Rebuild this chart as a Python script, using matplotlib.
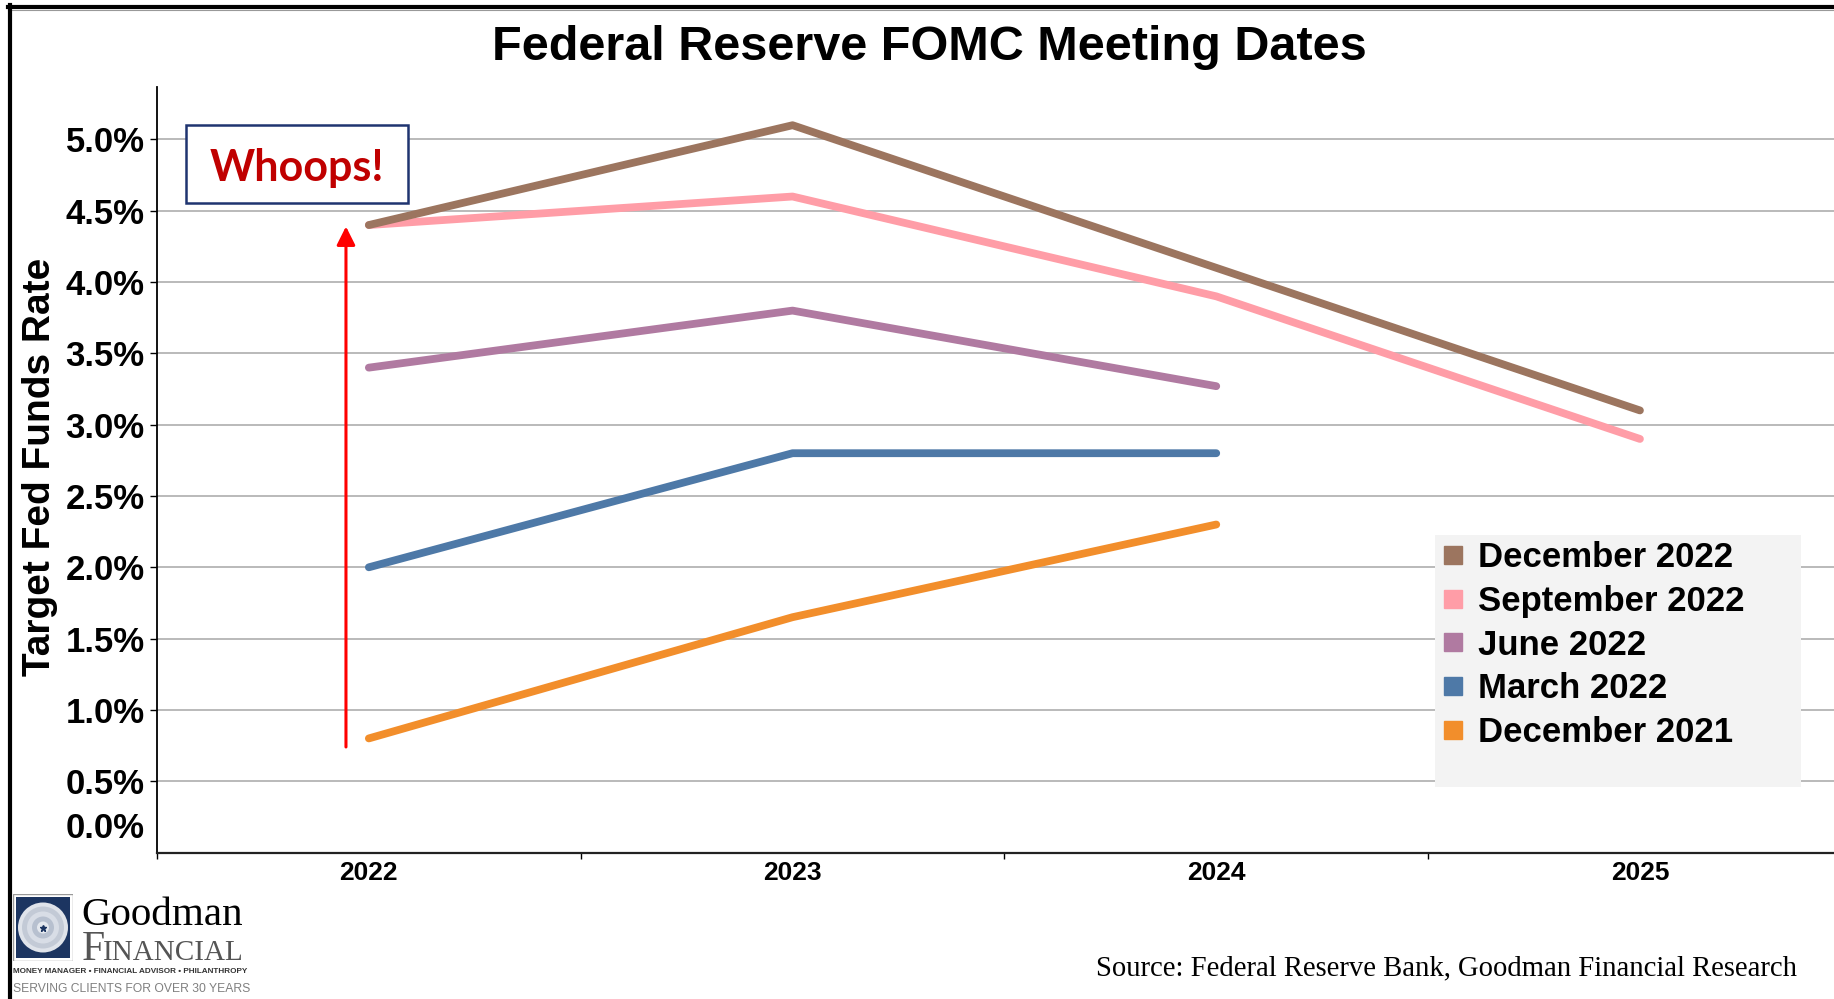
import matplotlib
matplotlib.use("Agg")
import matplotlib.pyplot as plt
import matplotlib.patches as mpatches
from matplotlib.lines import Line2D
import numpy as np

plt.rcParams['font.family'] = ['Liberation Sans', 'DejaVu Sans']

# projections of the target fed funds rate, by meeting
years = ['2022', '2023', '2024', '2025']
dec_2022 = [4.4, 5.1, 4.1, 3.1]
sep_2022 = [4.4, 4.6, 3.9, 2.9]
jun_2022 = [3.4, 3.8, 3.27]
mar_2022 = [2.0, 2.8, 2.8]
dec_2021 = [0.8, 1.65, 2.3]

series_names = ['December 2022', 'September 2022', 'June 2022', 'March 2022', 'December 2021']
series_values = [dec_2022, sep_2022, jun_2022, mar_2022, dec_2021]
series_colors = ['#9c755f', '#ff9da7', '#b07aa1', '#4e79a7', '#f28e2b']

ytick_values = [0.5, 1.0, 1.5, 2.0, 2.5, 3.0, 3.5, 4.0, 4.5, 5.0]

W, H = 1834, 999
fig = plt.figure(figsize=(W / 100, H / 100), dpi=100)


def fx(px):
    return px / W


def fy(py):
    return 1 - py / H


ax = fig.add_axes([fx(157), fy(852.5), 1 - fx(157), fy(87) - fy(852.5)])
ax.set_xlim(-0.5, 3.458)
ax.set_ylim(0, 5.368)

x = np.arange(len(years))
# oldest first so the newest projection sits on top
for name, vals, col in reversed(list(zip(series_names, series_values, series_colors))):
    ax.plot(x[:len(vals)], vals, color=col, lw=5.6, solid_capstyle='round', zorder=3)

ax.set_yticks(ytick_values)
ax.set_yticklabels(['%.1f%%' % v for v in ytick_values])
ax.tick_params(axis='y', length=5, width=1, pad=4, labelsize=25)
for lab in ax.get_yticklabels():
    lab.set_fontweight('bold')
ax.annotate('0.0%', xy=(0, 0), xycoords=('axes fraction', 'data'),
            xytext=(-12, 24.5), textcoords='offset pixels',
            ha='right', va='center', fontsize=25, fontweight='bold')
ax.grid(axis='y', color='#b4b4b4', lw=1.3)

ax.set_xticks(x)
ax.set_xticklabels(years, fontsize=19, fontweight='bold')
ax.set_xticks(np.arange(-0.5, 3.0, 1.0), minor=True)
ax.tick_params(axis='x', which='major', length=0, pad=6)
ax.tick_params(axis='x', which='minor', length=4, width=1)

for s in ['top', 'right']:
    ax.spines[s].set_visible(False)
ax.spines['left'].set_linewidth(1.3)
ax.spines['bottom'].set_linewidth(1.6)
ax.spines['bottom'].set_color('#222222')

# red arrow showing how far the 2022 projection moved
ax.annotate('', xy=(-0.054, 4.39), xytext=(-0.054, 0.74),
            arrowprops=dict(arrowstyle='-|>', color='red', lw=2.2,
                            mutation_scale=28, shrinkA=0, shrinkB=0), zorder=4)

# legend with grey panel
ax.add_patch(mpatches.Rectangle((fx(1435), fy(787)), fx(1801) - fx(1435), fy(535) - fy(787),
                                transform=fig.transFigure, facecolor='#f3f3f3',
                                edgecolor='none', zorder=1.8))
handles = [Line2D([], [], marker='s', color=c, linestyle='none', markersize=13)
           for c in series_colors]
ax.legend(handles, series_names, loc='upper left',
          bbox_to_anchor=(fx(1443), fy(541)), bbox_transform=fig.transFigure,
          frameon=False, borderpad=0, borderaxespad=0, handlelength=0.6,
          handletextpad=0.4, labelspacing=0.31,
          prop={'size': 25, 'weight': 'bold'})

fig.text(0.507, fy(47), 'Federal Reserve FOMC Meeting Dates', fontsize=35,
         fontweight='bold', ha='center', va='center')
fig.text(fx(40), fy(467), 'Target Fed Funds Rate', fontsize=28, fontweight='bold',
         rotation=90, ha='center', va='center')

# "Whoops!" call-out
fig.add_artist(mpatches.Rectangle((fx(186), fy(203)), fx(408) - fx(186), fy(125) - fy(203),
                                  transform=fig.transFigure, facecolor='white',
                                  edgecolor='#1f3470', lw=1.8, zorder=5))
fig.text(fx(297), fy(168), 'Whoops!', fontsize=31, fontweight='bold', color='#c00000',
         family='Lato', ha='center', va='center', zorder=6)

# outer frame
fig.add_artist(Line2D([fx(8), 1], [fy(7), fy(7)], color='black', lw=3, transform=fig.transFigure))
fig.add_artist(Line2D([fx(8), 1], [fy(9.8), fy(9.8)], color='#999999', lw=0.8, transform=fig.transFigure))
fig.add_artist(Line2D([fx(10), fx(10)], [fy(5), 0], color='black', lw=3, transform=fig.transFigure))

fig.text(fx(1797), fy(975), 'Source: Federal Reserve Bank, Goodman Financial Research',
         fontsize=20.6, family='Liberation Serif', ha='right', va='baseline')

# logo
lax = fig.add_axes([fx(13), fy(961), fx(73) - fx(13), fy(894) - fy(961)])
lax.set_xlim(0, 60)
lax.set_ylim(0, 67)
lax.axis('off')
lax.add_patch(mpatches.Rectangle((0, 0), 60, 67, facecolor='white', edgecolor='#999999', lw=1))
lax.add_patch(mpatches.Rectangle((3, 3), 54, 61, facecolor='#1c3561', edgecolor='none'))
for r, c in [(25, '#dfe3ea'), (21, '#c3cad6'), (16, '#d8dde6'), (11, '#b7c0cf'), (6, '#e4e8ee')]:
    lax.add_patch(mpatches.Ellipse((30, 33.5), 2 * r, 2 * r, facecolor=c, edgecolor='none'))
lax.plot([30], [33.5], marker='*', color='#1c3561', markersize=5)

fig.text(fx(81), fy(925), 'Goodman', fontsize=29.5, family='Liberation Serif',
         ha='left', va='baseline')
fig.text(fx(82), fy(960), 'F', fontsize=30, family='Liberation Serif', color='#555555',
         ha='left', va='baseline')
fig.text(fx(103), fy(960), 'INANCIAL', fontsize=21, family='Liberation Serif', color='#555555',
         ha='left', va='baseline')
fig.text(fx(13), fy(973), 'MONEY MANAGER \u2022 FINANCIAL ADVISOR \u2022 PHILANTHROPY',
         fontsize=5.9, fontweight='bold', color='#333333', ha='left', va='baseline')
fig.text(fx(13), fy(992), 'SERVING CLIENTS FOR OVER 30 YEARS', fontsize=8.7,
         color='#808080', ha='left', va='baseline')

fig.savefig('out.png', dpi=100)
